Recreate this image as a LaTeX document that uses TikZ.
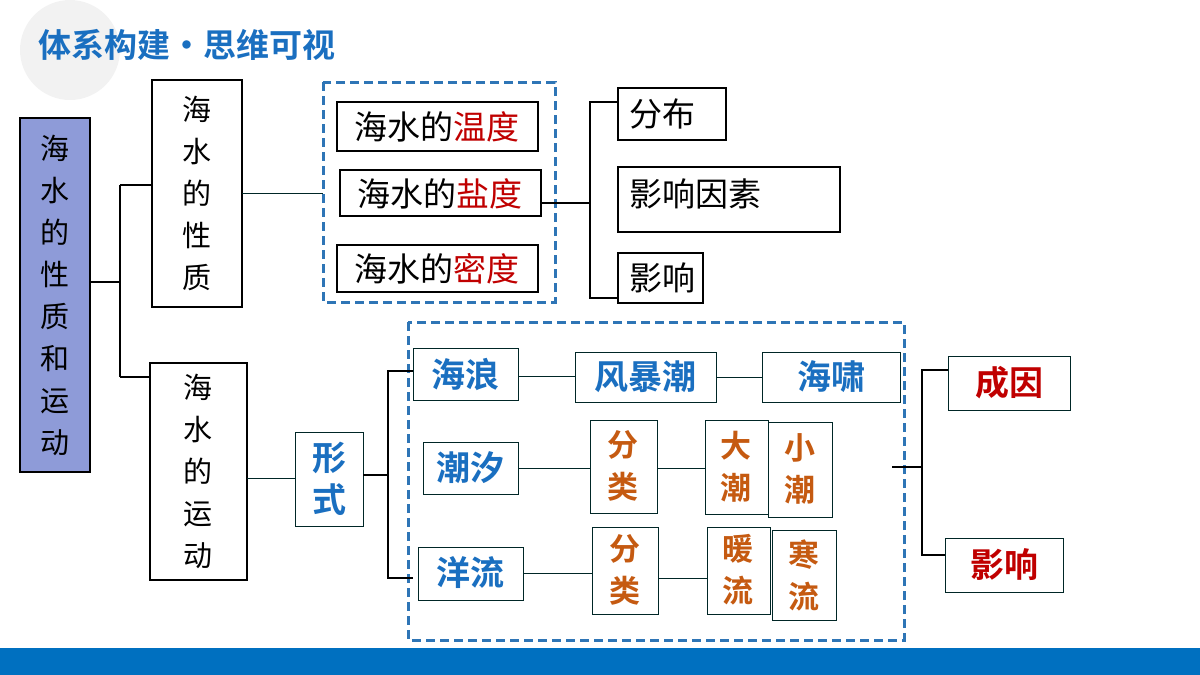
\documentclass[tikz,border=0pt]{standalone}
\usepackage{fontspec}
\newfontfamily\cjk{Noto Sans CJK SC}
\newfontfamily\cjkb{Noto Sans CJK SC Bold}
\definecolor{tblue}{HTML}{1A6FC0}
\definecolor{dblue}{HTML}{2E75B6}
\definecolor{torange}{HTML}{C55A11}
\definecolor{tred}{HTML}{C00000}
\definecolor{bar}{HTML}{0070C0}
\definecolor{lfill}{HTML}{8E9BD8}
\begin{document}
\begin{tikzpicture}[x=1pt,y=-1pt,
  bk/.style={draw=black,line width=2.5pt,fill=white},
  sk/.style={draw=black!70!teal,line width=0.8pt,fill=white},
  dbox/.style={draw=dblue,line width=3pt,dash pattern=on 9pt off 5pt},
  ln/.style={draw=black!70!teal,line width=1pt},
  br/.style={draw=black,line width=1.5pt},
  vt/.style={font=\cjk\fontsize{29}{42}\selectfont,align=center},
  st/.style={font=\cjk\fontsize{33}{38}\selectfont},
  bt/.style={font=\cjkb\fontsize{34}{42}\selectfont,align=center,text=tblue},
  ot/.style={font=\cjkb\fontsize{31}{42}\selectfont,align=center,text=torange},
  rt/.style={font=\cjkb\fontsize{34}{40}\selectfont,text=tred}]
\useasboundingbox (0,0) rectangle (1200,675);
\fill[black!5] (70,50) circle (50);
\fill[bar] (0,648) rectangle (1200,675);
\node[font=\cjkb\fontsize{33}{38}\selectfont,text=tblue,anchor=west,inner sep=0] (title) at (38,45) {体系构建•思维可视};
% left
\draw[bk,fill=lfill] (20,118) rectangle (90,472);
\node[vt] (L) at (55,295) {海\\水\\的\\性\\质\\和\\运\\动};
\coordinate (Lr) at (90,282);
\draw[bk] (152,80) rectangle (242,307);
\node[vt] (P) at (197,193) {海\\水\\的\\性\\质};
\draw[bk] (150,363) rectangle (247,580);
\node[vt] (M) at (198,471) {海\\水\\的\\运\\动};
\draw[br] (Lr) -- (120,282) (120,185) -- (120,377) (120,185) -- (152,185) (120,377) -- (150,377);
% properties
\draw[dbox] (323,82) rectangle (555,302);
\draw[ln] (242,193) -- (323,193);
\draw[bk] (337,102) rectangle (538,151); \node[st] (t1) at (437,127) {海水的\textcolor{tred}{温度}};
\draw[bk] (340,170) rectangle (541,216); \node[st] (t2) at (440,194) {海水的\textcolor{tred}{盐度}};
\draw[bk] (337,245) rectangle (538,292); \node[st] (t3) at (437,269) {海水的\textcolor{tred}{密度}};
\draw[br] (541,203) -- (590,203) (618,102) -- (590,102) -- (590,298) -- (618,298);
\draw[bk] (618,88) rectangle (726,140); \node[st,anchor=west] (a1) at (626,114) {分布};
\draw[bk] (618,167) rectangle (840,232); \node[st,anchor=west] (a2) at (626,194) {影响因素};
\draw[bk] (618,253) rectangle (703,303); \node[st,anchor=west] (a3) at (626,278) {影响};
% motion
\draw[dbox] (408,322) rectangle (904,640);
\draw[ln] (247,478) -- (295,478);
\draw[sk] (295,432) rectangle (363,526); \node[bt] (xs) at (329,479) {形\\式};
\draw[br] (363,475) -- (388,475) (413,371) -- (388,371) -- (388,578) -- (413,578);
\draw[sk] (413,348) rectangle (518,400); \node[bt] (h1) at (465,374) {海浪};
\draw[sk] (575,352) rectangle (716,402); \node[bt] (h2) at (645,377) {风暴潮};
\draw[sk] (762,352) rectangle (900,402); \node[bt] (h3) at (831,377) {海啸};
\draw[ln] (518,376) -- (575,376) (716,377) -- (762,377);
\draw[sk] (423,442) rectangle (518,494); \node[bt] (c1) at (470,468) {潮汐};
\draw[sk] (590,420) rectangle (657,513); \node[ot] (c2) at (623,466) {分\\类};
\draw[sk] (705,420) rectangle (768,514); \node[ot] (c3) at (736,467) {大\\潮};
\draw[sk] (768,422) rectangle (832,517); \node[ot] (c4) at (800,469) {小\\潮};
\draw[ln] (518,468) -- (590,468) (657,468) -- (705,468);
\draw[sk] (418,547) rectangle (523,600); \node[bt] (y1) at (470,573) {洋流};
\draw[sk] (592,527) rectangle (658,614); \node[ot] (y2) at (625,570) {分\\类};
\draw[sk] (707,527) rectangle (770,614); \node[ot] (y3) at (738,570) {暖\\流};
\draw[sk] (772,530) rectangle (836,620); \node[ot] (y4) at (804,575) {寒\\流};
\draw[ln] (523,573) -- (592,573) (658,578) -- (707,578);
\draw[br] (892,467) -- (922,467) (948,370) -- (922,370) -- (922,555) -- (948,555);
\draw[sk] (948,356) rectangle (1070,410); \node[rt] (r1) at (1009,383) {成因};
\draw[sk] (945,538) rectangle (1063,592); \node[rt] (r2) at (1004,565) {影响};
\end{tikzpicture}
\end{document}
